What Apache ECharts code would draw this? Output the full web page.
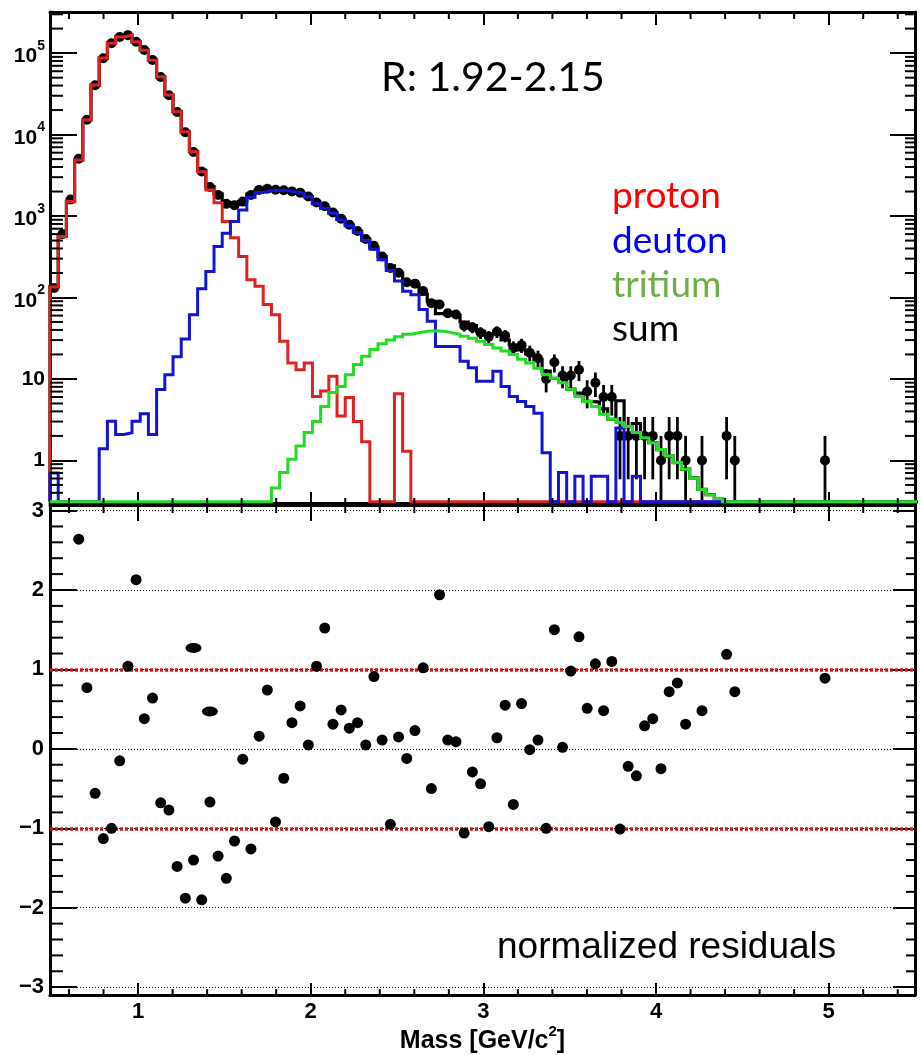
<!DOCTYPE html>
<html>
<head>
<meta charset="utf-8">
<script src="https://cdn.jsdelivr.net/npm/echarts@6.0.0/dist/echarts.min.js"></script>
<style>
html,body{margin:0;padding:0;background:#ffffff;}
#chart{width:921px;height:1055px;}
</style>
</head>
<body>
<div id="chart"></div>
<script>
// ---------- data ----------
const BIN_START = 0.49;      // GeV/c^2, left edge of first bin
const BIN_WIDTH = 0.0475;    // GeV/c^2

const PROTON = [
  135, 561, 1506, 4880, 15100, 40500, 86900, 132700, 158000, 166000,
  137600, 108900, 82000, 51200, 30600, 19100, 10860, 6170, 3510, 2094,
  1452, 857, 541, 319, 165, 137, 82, 61.5, 29, 15.7,
  13, 15.7, 6.1, 7.1, 10.8, 3.5, 5.9, 3.0, 1.7, 0,
  0, 0, 6.6, 1.3, 0, 0, 0, 0, 0, 0,
  0, 0, 0, 0, 0, 0, 0, 0, 0, 0,
  0, 0, 0, 0, 0, 0, 0, 0, 0, 0,
  0, 0, 0, 0, 0, 0, 0, 0, 0, 0,
  0, 0, 0, 0, 0, 0, 0, 0, 0, 0,
  0, 0, 0, 0, 0, 0, 0, 0, 0, 0,
  0, 0, 0, 0, 0, 0
];
const DEUTON = [
  0.7, 0, 0, 0, 0, 0, 1.39, 3.03, 2.08, 2.18,
  3.03, 3.73, 2.08, 7.4, 11.3, 18.7, 31, 61.5, 128, 209,
  423, 617, 857, 1190, 1700, 1950, 2050, 2080, 2060, 1975,
  1900, 1720, 1420, 1250, 1080, 900, 760, 630, 500, 390,
  290, 215, 160, 119, 108, 71, 51, 25, 25, 25,
  16.5, 13.7, 9.4, 9.4, 12.4, 8.1, 6.1, 5.3, 4.6, 3.8,
  1.24, 0, 0.71, 0, 0.64, 0, 0.64, 0.64, 0, 2.5,
  0, 0.64, 0, 0, 0, 0, 0, 0, 0, 0,
  0, 0, 0, 0, 0, 0, 0, 0, 0, 0,
  0, 0, 0, 0, 0, 0, 0, 0, 0, 0,
  0, 0, 0, 0, 0, 0
];
const TRITIUM = [
  0, 0, 0, 0, 0, 0, 0, 0, 0, 0,
  0, 0, 0, 0, 0, 0, 0, 0, 0, 0,
  0, 0, 0, 0, 0, 0, 0, 0.46, 0.71, 1.03,
  1.5, 2.2, 3.0, 4.6, 6.8, 8.1, 11.3, 15, 19, 23,
  27, 30, 33, 35.5, 37, 38.5, 39, 38.5, 37, 35.5,
  33.5, 31.5, 29, 26.5, 24, 22, 20, 17.5, 15.7, 13.5,
  11.3, 10.2, 9.0, 7.5, 6.1, 5.3, 4.6, 3.7, 3.2, 2.9,
  2.6, 2.2, 1.9, 1.65, 1.36, 1.13, 0.94, 0.78, 0.61, 0.44,
  0.38, 0.34, 0, 0, 0, 0, 0, 0, 0, 0,
  0, 0, 0, 0, 0, 0, 0, 0, 0, 0,
  0, 0, 0, 0, 0, 0
];
const SUM = [
  136, 561, 1506, 4880, 15100, 40500, 86900, 132700, 158000, 166000,
  137600, 108900, 82000, 51210, 30610, 19120, 10890, 6230, 3640, 2300,
  1875, 1474, 1398, 1509, 1865, 2087, 2132, 2142, 2090, 1992,
  1915, 1738, 1429, 1262, 1098, 912, 777, 648, 521, 413,
  317, 245, 200, 156, 145, 110, 90, 63.5, 62, 60.5,
  50, 45.2, 38.4, 35.9, 36.4, 30.1, 26.1, 22.8, 20.3, 17.3,
  12.5, 10.2, 9.7, 7.5, 6.7, 5.3, 5.2, 4.3, 3.2, 5.4,
  2.6, 2.84, 1.9, 1.65, 1.36, 1.13, 0.94, 0.78, 0.61, 0.44,
  0.38, 0.34, 0, 0, 0, 0, 0, 0, 0, 0,
  0, 0, 0, 0, 0, 0, 0, 0, 0, 0,
  0, 0, 0, 0, 0, 0
];
const DATA = [
  131, 600, 1600, 5064, 15195, 40390, 86570, 132340, 157940, 166420,
  138390, 109030, 82180, 51050, 30480, 18910, 10695, 6120, 3523, 2271,
  1817, 1411, 1355, 1504, 1811, 2094, 2166, 2099, 2073, 2007,
  1938, 1740, 1468, 1316, 1108, 927, 784, 656, 522, 431,
  319, 230, 202, 154, 148, 120, 85, 82, 64, 62,
  45, 43, 37, 33, 38, 34, 24, 26, 21, 18,
  10, 16, 11, 11, 13, 7, 9, 6, 6, 2,
  2, 2, 2, 2, 1, 2, 2, 1, null, 1,
  null, null, 2, 1, null, null, null, null, null, null,
  null, null, null, null, 1, null, null, null, null, null,
  null, null, null, null, null, null
];
const RESIDUALS = [
  null, null, null, 2.64, 0.77, -0.56, -1.13, -1.00, -0.15, 1.04,
  2.13, 0.38, 0.64, -0.68, -0.77, -1.48, -1.88, -1.40, -1.90, -0.67,
  -1.35, -1.63, -1.16, -0.13, -1.26, 0.16, 0.74, -0.92, -0.37, 0.33,
  0.54, 0.05, 1.04, 1.52, 0.31, 0.49, 0.26, 0.33, 0.05, 0.91,
  0.11, -0.95, 0.15, -0.12, 0.23, 1.02, -0.50, 1.94, 0.11, 0.09,
  -1.06, -0.29, -0.44, -0.98, 0.14, 0.55, -0.70, 0.57, -0.01, 0.11,
  -1.00, 1.50, 0.02, 0.98, 1.41, 0.51, 1.07, 0.48, 1.10, -1.01,
  -0.22, -0.34, 0.29, 0.38, -0.25, 0.72, 0.83, 0.31, null, 0.48,
  null, null, 1.19, 0.72, null, null, null, null, null, null,
  null, null, null, null, 0.89, null, null, null, null, null,
  null, null, null, null, null, null
];
const RESID_WIDE_BINS = [17, 19];
const RESID_WIDE_VALUES = [1.27, 0.47];

// tick positions / labels
const X_TICKS = [1, 2, 3, 4, 5];
const X_MINOR = [0.6, 0.8, 1.2, 1.4, 1.6, 1.8, 2.2, 2.4, 2.6, 2.8, 3.2, 3.4, 3.6, 3.8, 4.2, 4.4, 4.6, 4.8, 5.2, 5.4];
const LOG_TICKS = [1, 10, 100, 1000, 10000, 100000];
const LOG_MINOR = [0.4, 0.5, 0.6, 0.7, 0.8, 0.9,
  2, 3, 4, 5, 6, 7, 8, 9,
  20, 30, 40, 50, 60, 70, 80, 90,
  200, 300, 400, 500, 600, 700, 800, 900,
  2000, 3000, 4000, 5000, 6000, 7000, 8000, 9000,
  20000, 30000, 40000, 50000, 60000, 70000, 80000, 90000,
  200000, 300000];
const RES_TICKS = [-3, -2, -1, 0, 1, 2, 3];
const RES_MINOR = [-2.8, -2.6, -2.4, -2.2, -1.8, -1.6, -1.4, -1.2, -0.8, -0.6, -0.4, -0.2,
  0.2, 0.4, 0.6, 0.8, 1.2, 1.4, 1.6, 1.8, 2.2, 2.4, 2.6, 2.8];

const LABELS = {
  title: 'R: 1.92-2.15',
  proton: 'proton', deuton: 'deuton', tritium: 'tritium', sum: 'sum',
  resid: 'normalized residuals'
};

// ---------- axis ranges ----------
const X_MIN = 0.49, X_MAX = 5.5;
const LOG_MIN = 0.3, LOG_MAX = 320000, Y_FLOOR = 0.31;
const RES_MIN = -3.1, RES_MAX = 3.07;
const BOLD = 'Liberation Sans';

function histPoints(vals) {
  const pts = [[BIN_START, Y_FLOOR]];
  vals.forEach((v, i) => {
    const y = v > 0 ? v : Y_FLOOR;
    pts.push([BIN_START + i * BIN_WIDTH, y]);
    pts.push([BIN_START + (i + 1) * BIN_WIDTH, y]);
  });
  return pts;
}
function center(i) { return BIN_START + (i + 0.5) * BIN_WIDTH; }

const dataPts = [];
DATA.forEach((v, i) => { if (v != null) dataPts.push([center(i), v]); });
const errPts = dataPts.map(([x, v]) => [x, Math.max(v - Math.sqrt(v), Y_FLOOR), v + Math.sqrt(v)]);
const resPts = [];
RESIDUALS.forEach((v, i) => { if (v != null) resPts.push([center(i), v]); });
const widePts = RESID_WIDE_BINS.map((b, k) => [center(b), RESID_WIDE_VALUES[k]]);

function histSeries(name, vals, color, width, z) {
  return {
    name, type: 'line', xAxisIndex: 0, yAxisIndex: 0, data: histPoints(vals),
    showSymbol: false, symbol: 'none', z, silent: true,
    lineStyle: { color, width, join: 'miter', opacity: 1 }
  };
}

function xMinorSeries(xIdx, yIdx, yRef, lenTop, lenBot) {
  return {
    type: 'custom', xAxisIndex: xIdx, yAxisIndex: yIdx, silent: true, z: 20,
    data: X_MINOR.map(v => [v, yRef]), encode: { x: 0, y: 1 },
    renderItem(params, api) {
      const cs = params.coordSys;
      const x = api.coord([api.value(0), yRef])[0];
      return { type: 'group', children: [
        { type: 'line', shape: { x1: x, y1: cs.y, x2: x, y2: cs.y + lenTop }, style: { stroke: '#000', lineWidth: 2 } },
        { type: 'line', shape: { x1: x, y1: cs.y + cs.height, x2: x, y2: cs.y + cs.height - lenBot }, style: { stroke: '#000', lineWidth: 2 } }
      ] };
    }
  };
}
function yMinorSeries(xIdx, yIdx, vals, lenL, lenR) {
  return {
    type: 'custom', xAxisIndex: xIdx, yAxisIndex: yIdx, silent: true, z: 20,
    data: vals.map(v => [2, v]), encode: { x: 0, y: 1 },
    renderItem(params, api) {
      const cs = params.coordSys;
      const y = api.coord([2, api.value(1)])[1];
      return { type: 'group', children: [
        { type: 'line', shape: { x1: cs.x, y1: y, x2: cs.x + lenL, y2: y }, style: { stroke: '#000', lineWidth: 2 } },
        { type: 'line', shape: { x1: cs.x + cs.width, y1: y, x2: cs.x + cs.width - lenR, y2: y }, style: { stroke: '#000', lineWidth: 2 } }
      ] };
    }
  };
}

const axisLine = { show: true, onZero: false, lineStyle: { color: '#000', width: 3 } };
function xTick(len) { return { show: true, inside: true, length: len, customValues: X_TICKS, lineStyle: { color: '#000', width: 2 } }; }
function yTick(len, vals) { return { show: true, inside: true, length: len, customValues: vals, lineStyle: { color: '#000', width: 2 } }; }

const dotted = { color: '#000', width: 1, type: [1, 2], opacity: 1 };
const redDash = { color: '#d01818', width: 3.5, type: [3, 2], opacity: 1 };

const option = {
  animation: false,
  backgroundColor: '#ffffff',
  grid: [
    { left: 50, top: 12, width: 865, height: 491 },
    { left: 50, top: 505, width: 865, height: 493 }
  ],
  xAxis: [
    { gridIndex: 0, type: 'value', min: X_MIN, max: X_MAX, position: 'bottom', axisLine, axisTick: xTick(11), axisLabel: { show: false }, splitLine: { show: false } },
    { gridIndex: 0, type: 'value', min: X_MIN, max: X_MAX, position: 'top', axisLine, axisTick: xTick(13), axisLabel: { show: false }, splitLine: { show: false } },
    { gridIndex: 1, type: 'value', min: X_MIN, max: X_MAX, position: 'bottom', axisLine, axisTick: xTick(12),
      axisLabel: { show: true, customValues: X_TICKS, margin: 6, fontSize: 22, fontWeight: 'bold', fontFamily: BOLD, color: '#000' },
      splitLine: { show: false },
      name: '{n|Mass [GeV/c}{s|2}{n|]}', nameLocation: 'middle', nameGap: 24,
      nameTextStyle: { fontSize: 25, fontWeight: 'bold', fontFamily: BOLD, color: '#000',
        rich: {
          n: { fontSize: 25, fontWeight: 'bold', fontFamily: BOLD, color: '#000', verticalAlign: 'bottom', lineHeight: 30 },
          s: { fontSize: 15, fontWeight: 'bold', fontFamily: BOLD, color: '#000', verticalAlign: 'top', lineHeight: 30 }
        } }
    },
    { gridIndex: 1, type: 'value', min: X_MIN, max: X_MAX, position: 'top', axisLine, axisTick: xTick(16), axisLabel: { show: false }, splitLine: { show: false } }
  ],
  yAxis: [
    { gridIndex: 0, type: 'log', logBase: 10, min: LOG_MIN, max: LOG_MAX, position: 'left', axisLine, axisTick: yTick(27, LOG_TICKS),
      axisLabel: { show: true, customValues: LOG_TICKS, margin: 5, color: '#000',
        formatter: v => { const e = Math.round(Math.log10(v)); if (e === 0) return '{p|1}'; if (e === 1) return '{p|10}'; return '{b|10}{s|' + e + '}'; },
        rich: {
          p: { fontSize: 21, fontWeight: 'bold', fontFamily: BOLD, color: '#000' },
          b: { fontSize: 21, fontWeight: 'bold', fontFamily: BOLD, color: '#000', lineHeight: 28, verticalAlign: 'bottom' },
          s: { fontSize: 14, fontWeight: 'bold', fontFamily: BOLD, color: '#000', lineHeight: 28, verticalAlign: 'top' }
        } },
      splitLine: { show: false } },
    { gridIndex: 0, type: 'log', logBase: 10, min: LOG_MIN, max: LOG_MAX, position: 'right', axisLine, axisTick: yTick(25, LOG_TICKS), axisLabel: { show: false }, splitLine: { show: false } },
    { gridIndex: 1, type: 'value', min: RES_MIN, max: RES_MAX, position: 'left', axisLine, axisTick: yTick(27, RES_TICKS),
      axisLabel: { show: true, customValues: RES_TICKS, margin: 6, fontSize: 22, fontWeight: 'bold', fontFamily: BOLD, color: '#000',
        formatter: v => (v < 0 ? '\u2212' + Math.abs(v) : String(v)) },
      splitLine: { show: false } },
    { gridIndex: 1, type: 'value', min: RES_MIN, max: RES_MAX, position: 'right', axisLine, axisTick: yTick(22, RES_TICKS), axisLabel: { show: false }, splitLine: { show: false } }
  ],
  series: [
    { type: 'custom', xAxisIndex: 0, yAxisIndex: 0, silent: true, z: 2, data: errPts, encode: { x: 0, y: [1, 2] },
      renderItem(params, api) {
        const a = api.coord([api.value(0), api.value(1)]);
        const b = api.coord([api.value(0), api.value(2)]);
        return { type: 'line', shape: { x1: a[0], y1: a[1], x2: b[0], y2: b[1] }, style: { stroke: '#000', lineWidth: 2.8 } };
      } },
    { type: 'scatter', xAxisIndex: 0, yAxisIndex: 0, data: dataPts, symbol: 'circle', symbolSize: 10, silent: true, z: 2,
      itemStyle: { color: '#000', opacity: 1 } },
    histSeries('sum', SUM, '#000000', 3.2, 3),
    histSeries('proton', PROTON, '#dd2222', 3, 4),
    histSeries('deuton', DEUTON, '#1414d4', 3, 5),
    histSeries('tritium', TRITIUM, '#22dd22', 3, 6),
    { type: 'scatter', xAxisIndex: 2, yAxisIndex: 2, data: resPts, symbol: 'circle', symbolSize: 11, silent: true, z: 5,
      itemStyle: { color: '#000', opacity: 1 },
      markLine: { silent: true, symbol: ['none', 'none'], label: { show: false }, animation: false,
        data: [
          { yAxis: 3, lineStyle: dotted }, { yAxis: 2, lineStyle: dotted }, { yAxis: 1, lineStyle: dotted },
          { yAxis: 0, lineStyle: dotted }, { yAxis: -1, lineStyle: dotted }, { yAxis: -2, lineStyle: dotted },
          { yAxis: -3, lineStyle: dotted },
          { yAxis: 1, lineStyle: redDash }, { yAxis: -1, lineStyle: redDash }
        ] } },
    { type: 'scatter', xAxisIndex: 2, yAxisIndex: 2, data: widePts, symbol: 'circle', symbolSize: [16, 10], silent: true, z: 5,
      itemStyle: { color: '#000', opacity: 1 } },
    xMinorSeries(0, 0, 1, 7, 5),
    xMinorSeries(2, 2, 0, 8, 6),
    yMinorSeries(0, 0, LOG_MINOR, 13, 10),
    yMinorSeries(2, 2, RES_MINOR, 13, 9)
  ],
  graphic: [
    { type: 'text', x: 381, y: 78, style: { text: LABELS.title, fill: '#000', fontSize: 41, fontFamily: 'Lato', textVerticalAlign: 'middle', verticalAlign: 'middle' } },
    { type: 'text', x: 612, y: 196, style: { text: LABELS.proton, fill: '#ff0000', fontSize: 37, fontFamily: 'Lato', textVerticalAlign: 'middle', verticalAlign: 'middle' } },
    { type: 'text', x: 612, y: 241, style: { text: LABELS.deuton, fill: '#0000ff', fontSize: 37, fontFamily: 'Lato', textVerticalAlign: 'middle', verticalAlign: 'middle' } },
    { type: 'text', x: 612, y: 285, style: { text: LABELS.tritium, fill: '#70ad47', fontSize: 37, fontFamily: 'Lato', textVerticalAlign: 'middle', verticalAlign: 'middle' } },
    { type: 'text', x: 612, y: 329, style: { text: LABELS.sum, fill: '#000000', fontSize: 37, fontFamily: 'Lato', textVerticalAlign: 'middle', verticalAlign: 'middle' } },
    { type: 'text', x: 497, y: 948, style: { text: LABELS.resid, fill: '#000000', fontSize: 37, fontFamily: 'Liberation Sans', textVerticalAlign: 'middle', verticalAlign: 'middle' } }
  ]
};

const chart = echarts.init(document.getElementById('chart'), null, { renderer: 'canvas' });
chart.setOption(option);
</script>
</body>
</html>
